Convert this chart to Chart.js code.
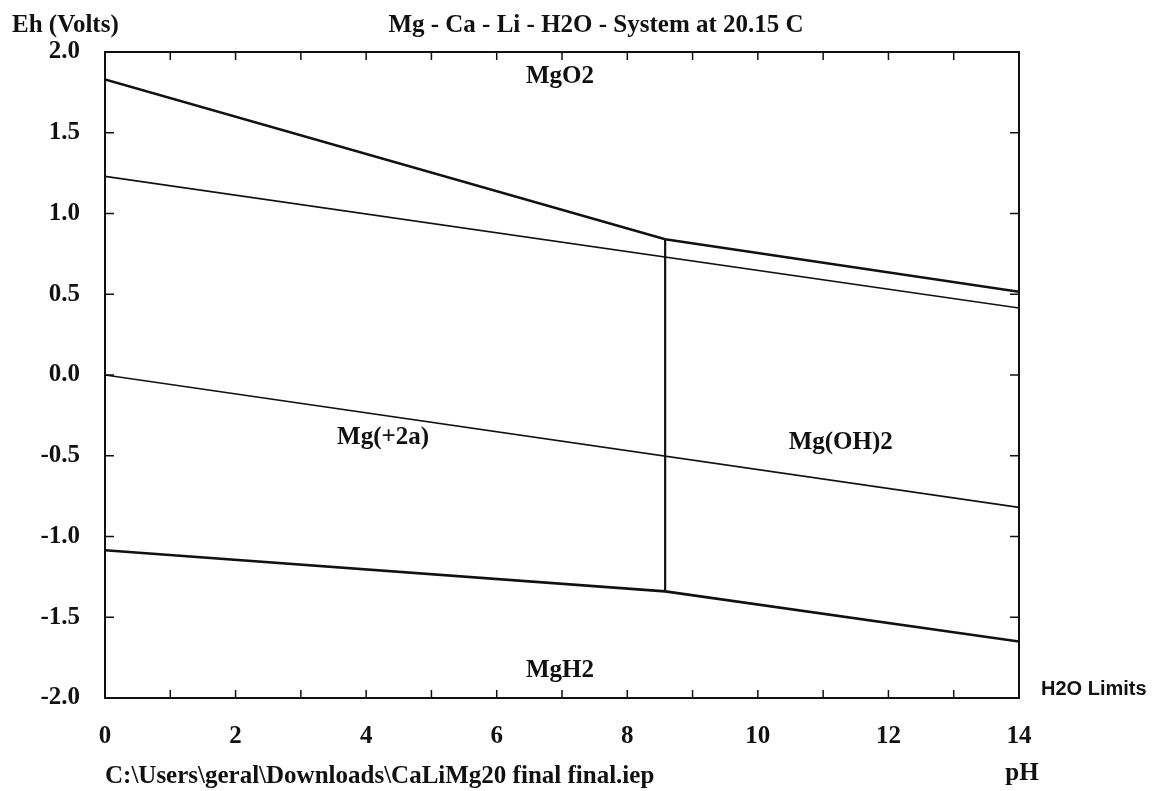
<!DOCTYPE html>
<html>
<head>
<meta charset="utf-8">
<script src="https://cdn.jsdelivr.net/npm/chart.js@4.4.0/dist/chart.umd.min.js"></script>
<style>
html,body{margin:0;padding:0;background:#fff;}
#wrap{width:1155px;height:791px;position:relative;}
</style>
</head>
<body>
<div id="wrap"><canvas id="c" width="1155" height="791"></canvas></div>
<script>
// ---- data ----
const titleText = "Mg - Ca - Li - H2O - System at 20.15 C";
const yAxisTitle = "Eh (Volts)";
const xAxisTitle = "pH";
const fileName = "C:\\Users\\geral\\Downloads\\CaLiMg20 final final.iep";
const limitsLabel = "H2O Limits";

const xTickValues = [0, 2, 4, 6, 8, 10, 12, 14];
const yTickValues = [-2.0, -1.5, -1.0, -0.5, 0.0, 0.5, 1.0, 1.5, 2.0];

const upperBoundaryPH = [0, 8.58, 14];
const upperBoundaryEh = [1.83, 0.84, 0.515];

const o2LimitPH = [0, 14];
const o2LimitEh = [1.23, 0.415];

const h2LimitPH = [0, 14];
const h2LimitEh = [0.0, -0.82];

const lowerBoundaryPH = [0, 8.58, 14];
const lowerBoundaryEh = [-1.085, -1.34, -1.65];

const verticalPH = [8.58, 8.58];
const verticalEh = [-1.34, 0.84];

const regionNames = ["MgO2", "Mg(+2a)", "Mg(OH)2", "MgH2"];
const regionPH = [6.97, 4.26, 11.27, 6.97];
const regionEh = [1.845, -0.39, -0.42, -1.83];

// ---- helpers ----
function pts(xs, ys){ return xs.map((x,i)=>({x:x, y:ys[i]})); }
function lineDs(xs, ys, w){
  return {data: pts(xs, ys), showLine: true, borderColor: '#111', borderWidth: w,
          pointRadius: 0, fill: false, tension: 0};
}
const serif = '"Liberation Serif", "Times New Roman", serif';

function drawText(ctx, txt, x, y, align, font){
  ctx.save();
  ctx.font = font;
  ctx.textBaseline = 'middle';
  ctx.textAlign = align;
  ctx.fillText(txt, x, y);
  ctx.restore();
}

const decor = {
  id: 'decor',
  afterDraw(chart){
    const ctx = chart.ctx, xs = chart.scales.x, ys = chart.scales.y, a = chart.chartArea;
    ctx.save();
    // frame
    ctx.strokeStyle = '#111'; ctx.lineWidth = 2;
    ctx.strokeRect(a.left, a.top, a.right - a.left, a.bottom - a.top);
    // inward ticks
    ctx.lineWidth = 1.5;
    for (let v = 0; v <= 14; v++){
      const px = xs.getPixelForValue(v);
      ctx.beginPath();
      ctx.moveTo(px, a.top); ctx.lineTo(px, a.top + 8);
      ctx.moveTo(px, a.bottom); ctx.lineTo(px, a.bottom - 8);
      ctx.stroke();
    }
    yTickValues.forEach(v=>{
      const py = ys.getPixelForValue(v);
      ctx.beginPath();
      ctx.moveTo(a.left, py); ctx.lineTo(a.left + 9, py);
      ctx.moveTo(a.right, py); ctx.lineTo(a.right - 9, py);
      ctx.stroke();
    });
    // texts
    ctx.fillStyle = '#111';
    const f = 'bold 25px ' + serif;
    xTickValues.forEach(v=>{
      drawText(ctx, String(v), xs.getPixelForValue(v), a.bottom + 39, 'center', f);
    });
    yTickValues.forEach(v=>{
      drawText(ctx, v.toFixed(1), a.left - 25, ys.getPixelForValue(v), 'right', f);
    });
    drawText(ctx, titleText, 596, 26, 'center', f);
    drawText(ctx, yAxisTitle, 12, 26, 'left', f);
    drawText(ctx, fileName, 105, 777, 'left', f);
    drawText(ctx, xAxisTitle, 1022, 774, 'center', f);
    regionNames.forEach((n,i)=>{
      drawText(ctx, n, xs.getPixelForValue(regionPH[i]), ys.getPixelForValue(regionEh[i]), 'center', f);
    });
    drawText(ctx, limitsLabel, 1041, 689, 'left', 'bold 20px "Liberation Sans", Arial, sans-serif');
    ctx.restore();
  }
};

new Chart(document.getElementById('c'), {
  type: 'scatter',
  data: {
    datasets: [
      lineDs(upperBoundaryPH, upperBoundaryEh, 2.6),
      lineDs(o2LimitPH, o2LimitEh, 1.6),
      lineDs(h2LimitPH, h2LimitEh, 1.6),
      lineDs(lowerBoundaryPH, lowerBoundaryEh, 2.6),
      lineDs(verticalPH, verticalEh, 2.2)
    ]
  },
  options: {
    responsive: false,
    animation: false,
    events: [],
    layout: {padding: {left: 0, top: 52, right: 136, bottom: 0}},
    plugins: {legend: {display: false}, tooltip: {enabled: false}, title: {display: false}},
    scales: {
      x: {
        type: 'linear', min: 0, max: 14,
        afterFit(s){ s.height = 93; },
        afterBuildTicks(s){ s.ticks = xTickValues.map(v=>({value: v})); },
        grid: {display: false, drawTicks: false},
        border: {display: false},
        ticks: {display: false}
      },
      y: {
        type: 'linear', min: -2, max: 2,
        afterFit(s){ s.width = 105; },
        afterBuildTicks(s){ s.ticks = yTickValues.map(v=>({value: v})); },
        grid: {display: false, drawTicks: false},
        border: {display: false},
        ticks: {display: false}
      }
    }
  },
  plugins: [decor]
});
</script>
</body>
</html>
